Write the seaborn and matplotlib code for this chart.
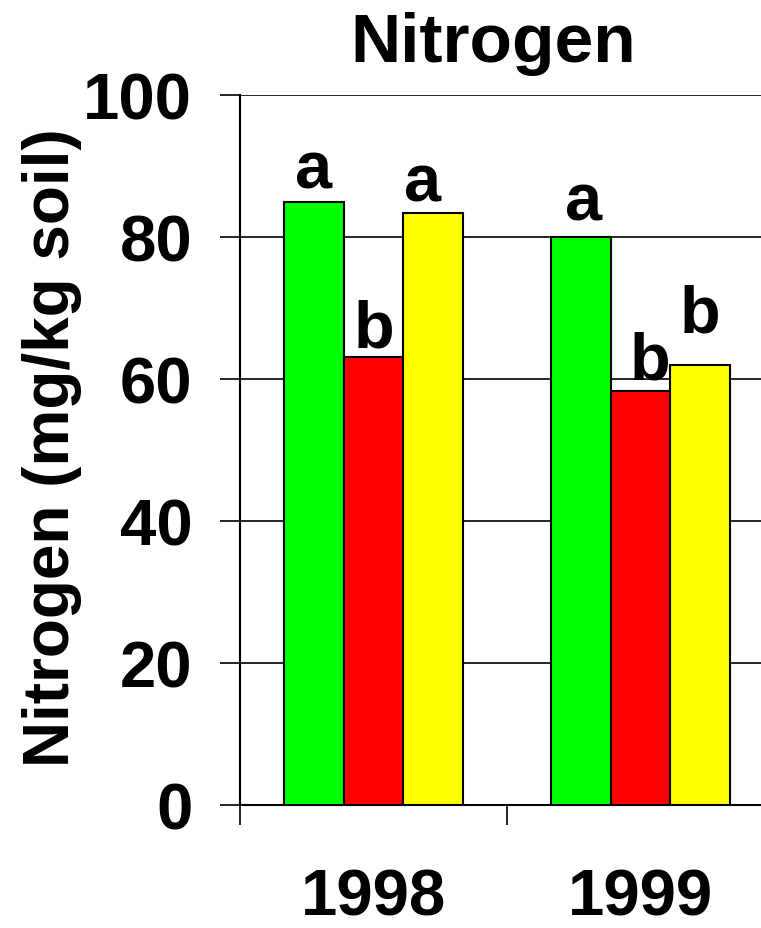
import matplotlib
matplotlib.use("Agg")
import matplotlib.pyplot as plt
import seaborn as sns
import pandas as pd
from matplotlib.ticker import FixedLocator, NullFormatter, FixedFormatter

# ---- data ----
years = ["1998", "1999"]
treatments = ["T1", "T2", "T3"]
nitrogen_t1 = [84.9, 80.0]
nitrogen_t2 = [63.1, 58.3]
nitrogen_t3 = [83.4, 61.9]
letters_t1 = ["a", "a"]
letters_t2 = ["b", "b"]
letters_t3 = ["a", "b"]
y_ticks = [0, 20, 40, 60, 80, 100]

colors = ["#00FF00", "#FF0000", "#FFFF00"]

rows = []
for t, vals in zip(treatments, [nitrogen_t1, nitrogen_t2, nitrogen_t3]):
    for yr, v in zip(years, vals):
        rows.append({"Year": yr, "Treatment": t, "Nitrogen": v})
df = pd.DataFrame(rows)

sns.set_theme(style="white")
plt.rcParams["font.family"] = ["Liberation Sans", "DejaVu Sans"]
plt.rcParams["font.weight"] = "bold"
plt.rcParams["text.color"] = "black"
plt.rcParams["axes.labelcolor"] = "black"
plt.rcParams["xtick.color"] = "black"
plt.rcParams["ytick.color"] = "black"

W, H = 761, 929
fig = plt.figure(figsize=(W / 100, H / 100), dpi=100)
ax = fig.add_axes([240 / W, (H - 806.3) / H, 534 / W, 710.6 / H])

sns.barplot(data=df, x="Year", y="Nitrogen", hue="Treatment", order=years,
            hue_order=treatments, palette=colors, width=0.67, gap=0,
            edgecolor="black", linewidth=1.5, saturation=1, legend=False,
            errorbar=None, ax=ax, zorder=3)

ax.set_xlim(-0.5, 1.5)
ax.set_ylim(0, 100)
ax.set_yticks(y_ticks)
ax.set_yticklabels([str(v) for v in y_ticks], fontsize=47, fontweight="bold",
                   color="black")
ax.yaxis.grid(True, color="black", linewidth=1.2, zorder=0)
ax.set_axisbelow(True)
ax.tick_params(axis="y", direction="out", length=14.4, width=1.2, pad=20,
               left=True, color="black", labelcolor="black")

# category boundaries as major ticks, labels on minor ticks at centers
ax.xaxis.set_major_locator(FixedLocator([-0.5, 0.5, 1.5]))
ax.xaxis.set_major_formatter(NullFormatter())
ax.xaxis.set_minor_locator(FixedLocator([0, 1]))
ax.xaxis.set_minor_formatter(FixedFormatter(years))
ax.tick_params(axis="x", which="major", direction="out", length=14.4,
               width=1.2, bottom=True, color="black")
ax.tick_params(axis="x", which="minor", length=0, pad=45, labelsize=47,
               labelcolor="black")
for lab in ax.get_xticklabels(minor=True):
    lab.set_fontweight("bold")

for s in ["top", "right"]:
    ax.spines[s].set_visible(False)
for s in ["left", "bottom"]:
    ax.spines[s].set_color("black")
    ax.spines[s].set_linewidth(1.5)
ax.set_xlabel("")
ax.set_ylabel("")

# significance letters
nudges = [[(0.0, 2.1), (0.011, 2.5)],
          [(0.0, 1.4), (0.037, 1.7)],
          [(-0.041, 1.7), (0.0, 4.8)]]
for cont, letters, nud in zip(ax.containers, [letters_t1, letters_t2, letters_t3], nudges):
    for bar, letter, (dx, dy) in zip(cont, letters, nud):
        xc = bar.get_x() + bar.get_width() / 2
        ax.text(xc + dx, bar.get_height() + dy, letter, ha="center",
                va="baseline", fontsize=48, fontweight="bold", color="black",
                zorder=5)

fig.text(493.5 / W, 1 - 61.7 / H, "Nitrogen", ha="center", va="baseline",
         fontsize=50, fontweight="bold", color="black")
fig.text(52 / W, 1 - 447.5 / H, "Nitrogen (mg/kg soil)", rotation=90,
         ha="center", va="center", fontsize=46, fontweight="bold", color="black")

fig.savefig("out.png", dpi=100)
